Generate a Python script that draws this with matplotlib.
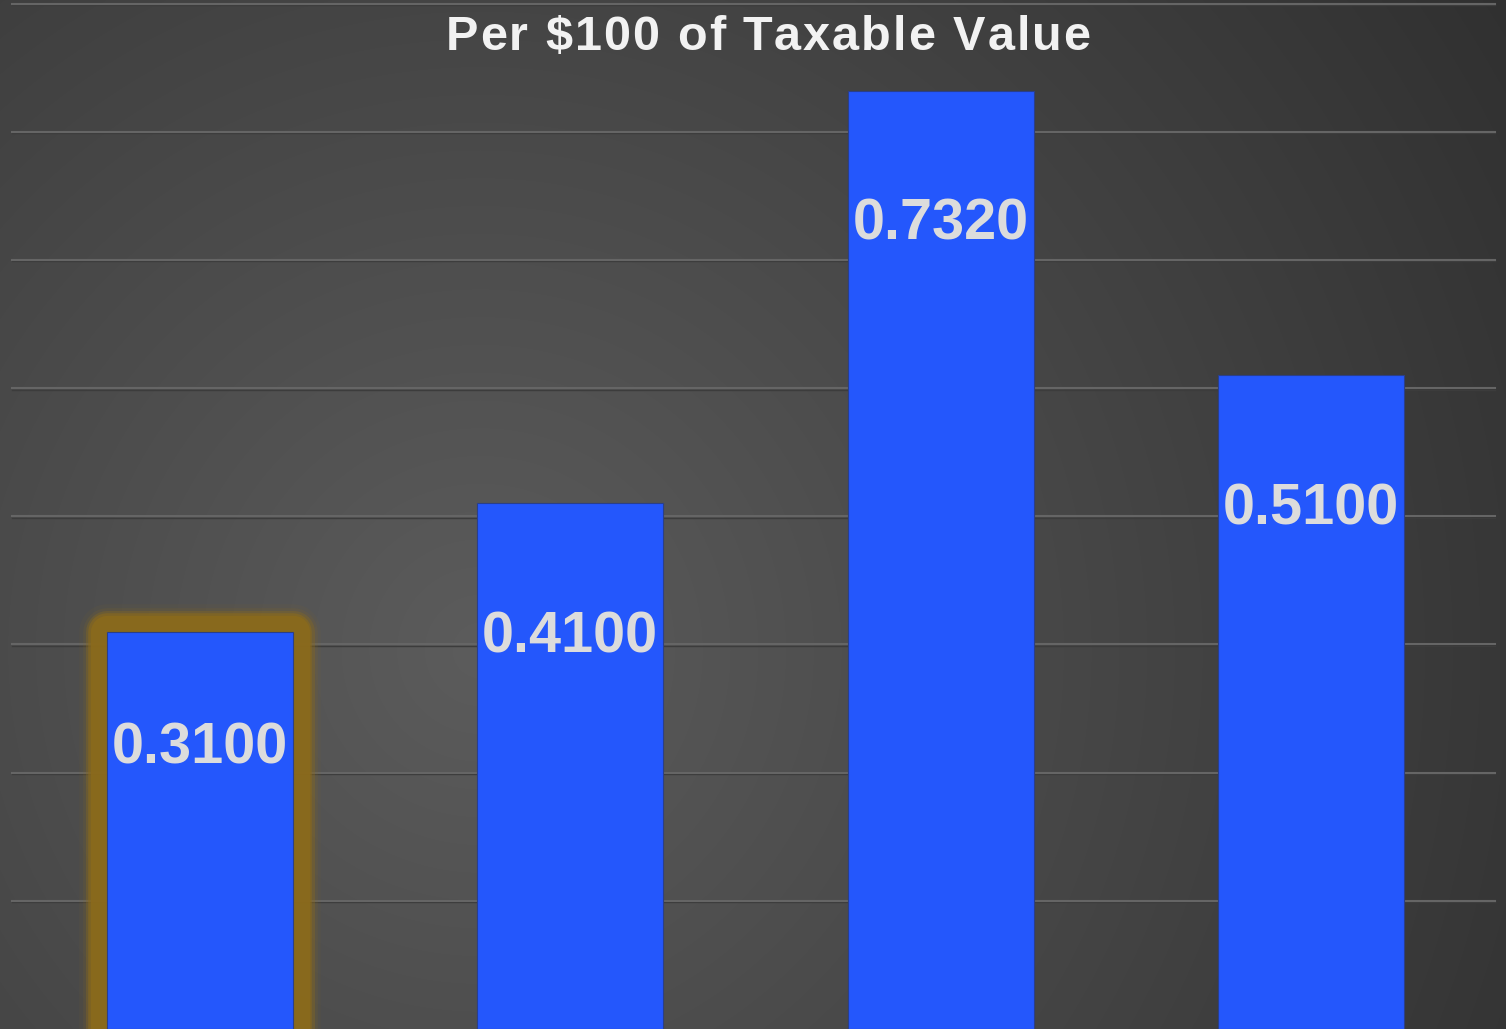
import numpy as np
import matplotlib
matplotlib.use("Agg")
import matplotlib.pyplot as plt

# data
categories = ["A", "B", "C", "D"]
rates = [0.3100, 0.4100, 0.7320, 0.5100]
highlight = 0  # bar with the gold glow
title = "Per $100 of Taxable Value"

W, H = 1506, 1029
fig = plt.figure(figsize=(W / 100, H / 100), dpi=100)

# background: soft radial grey gradient
bg = fig.add_axes([0, 0, 1, 1])
yy, xx = np.mgrid[0:H, 0:W]
dist = np.hypot(xx - 480, yy - 650)
shade = np.clip(92 - 0.036 * dist, 46, 95) / 255.0
bg.imshow(np.dstack([shade, shade, shade]), aspect="auto", extent=(0, W, H, 0))
bg.set_axis_off()

ax = fig.add_axes([0, 0, 1, 1])
ax.patch.set_alpha(0)
ax.set_xlim(-0.540, 3.527)
ax.set_ylim(0, 0.8028)
ax.set_axis_off()

# gridlines
for g in np.arange(0.1, 0.81, 0.1):
    ax.axhline(g - 0.0012, xmin=0.008, xmax=0.993, color="#3c3c3c", lw=1.0, zorder=1)
    ax.axhline(g, xmin=0.008, xmax=0.993, color="#656565", lw=1.5, zorder=1)

x = np.arange(len(categories))
bw = 0.502

# gold glow behind the highlighted bar
hx = x[highlight]
for lw, a in [(40, 0.08), (35, 0.15), (31, 0.35), (27, 0.6), (24, 0.9)]:
    ax.bar(hx, rates[highlight], width=bw, color="none", edgecolor="#8a6a1c",
           linewidth=lw, alpha=a, zorder=2, joinstyle="round")

bars = ax.bar(x, rates, width=bw, color="#2457fc", edgecolor="#2a3f8a",
              linewidth=0.8, zorder=3)

for i, (xi, v) in enumerate(zip(x, rates)):
    drop = 117 if i == highlight else 134
    ax.annotate(f"{v:.4f}", (xi, v), xytext=(0, -drop * 0.72), textcoords="offset points",
                ha="center", va="center", fontsize=41.5, fontweight="bold",
                family="Liberation Sans", color="#dcdcdc", zorder=4)

# title with a little letter spacing, placed character by character
fig.canvas.draw()
renderer = fig.canvas.get_renderer()
tkw = dict(fontsize=35, fontweight="bold", family="Liberation Sans", color="#f2f2f2")
track = 2.0
widths = []
for ch in title:
    t = fig.text(0, 0, ch if ch != " " else "a", **tkw)
    w = t.get_window_extent(renderer).width
    if ch == " ":
        w *= 0.5
    widths.append(w)
    t.remove()
total = sum(widths) + track * (len(title) - 1)
xpos = 768 - total / 2
for ch, w in zip(title, widths):
    if ch != " ":
        fig.text(xpos / W, 1 - 50 / H, ch, ha="left", va="baseline", **tkw)
    xpos += w + track

fig.savefig("out.png", dpi=100)
